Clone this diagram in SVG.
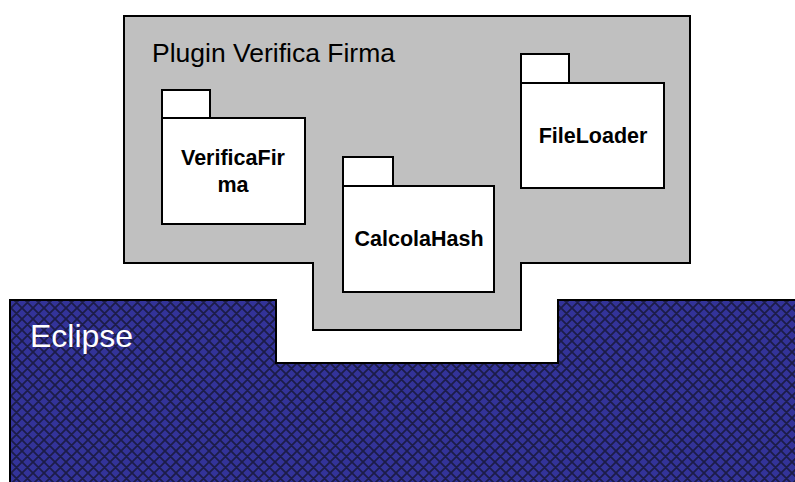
<svg xmlns="http://www.w3.org/2000/svg" width="795" height="482" viewBox="0 0 795 482">
<defs>
<pattern id="hatch" width="11" height="11" patternUnits="userSpaceOnUse">
<rect width="11" height="11" fill="#333399"/>
<path d="M-1,1 L1,-1 M0,11 L11,0 M10,12 L12,10 M-1,10 L1,12 M0,0 L11,11 M10,-1 L12,1" stroke="#1c1c48" stroke-width="1.8"/>
</pattern>
<style>
.pkg{fill:#fff;stroke:#000;stroke-width:2}
.lbl{font-family:"Liberation Sans",Arial,sans-serif;font-weight:bold;font-size:21.5px;fill:#000;text-anchor:middle}
</style>
</defs>
<g id="eclipse">
<path d="M10,300 H276 V363 H558 V300 H797 V484 H10 Z" fill="url(#hatch)" stroke="#000" stroke-width="2"/>
<text x="30" y="347" font-family="Liberation Sans,Arial,sans-serif" font-size="32" fill="#fff">Eclipse</text>
</g>
<g id="plugin">
<path d="M124,16 H690 V263 H521 V330 H313 V263 H124 Z" fill="#c0c0c0" stroke="#000" stroke-width="2"/>
<text x="152" y="62" font-family="Liberation Sans,Arial,sans-serif" font-size="26.5" fill="#000">Plugin Verifica Firma</text>
</g>
<g id="verificafirma">
<rect class="pkg" x="162" y="90" width="48" height="28"/>
<rect class="pkg" x="162" y="118" width="143" height="106"/>
<text class="lbl" x="233" y="165">VerificaFir</text>
<text class="lbl" x="233" y="192">ma</text>
</g>
<g id="calcolahash">
<rect class="pkg" x="343" y="157" width="50" height="29"/>
<rect class="pkg" x="343" y="186" width="151" height="106"/>
<text class="lbl" x="419" y="246">CalcolaHash</text>
</g>
<g id="fileloader">
<rect class="pkg" x="521" y="54" width="48" height="29"/>
<rect class="pkg" x="521" y="83" width="143" height="105"/>
<text class="lbl" x="593" y="143">FileLoader</text>
</g>
<g id="connectors"></g>
</svg>
